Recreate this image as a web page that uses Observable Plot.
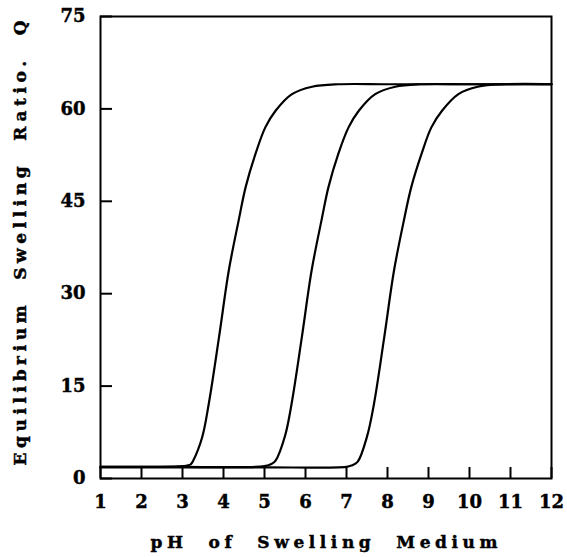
<!DOCTYPE html>
<html><head><meta charset="utf-8">
<script src="https://cdn.jsdelivr.net/npm/d3@7"></script>
<script src="https://cdn.jsdelivr.net/npm/@observablehq/plot@0.6"></script>
<style>
html,body{margin:0;padding:0;background:#fff;}
svg text{white-space:pre; stroke:#000; stroke-width:0.45px;}
</style></head><body><div id="chart"></div>
<script>
const xTicks = [1,2,3,4,5,6,7,8,9,10,11,12];
const yTicks = [0,15,30,45,60,75];
const xLabel = "pH  of  Swelling  Medium";
const yLabel = "Equilibrium  Swelling  Ratio.  Q";

const curve1pH = [1, 2, 3, 3.2, 3.26, 3.48, 3.64, 3.89, 4.13, 4.37, 4.54, 4.78, 5.02, 5.27, 5.67, 6.16, 6.8, 8, 10, 12];
const curve1Q  = [1.9, 1.9, 2.0, 2.3, 2.9, 6.7, 12.1, 22.9, 33.8, 41.9, 47.3, 52.7, 57.0, 59.7, 62.4, 63.6, 64.0, 64.0, 64.0, 64.0];
const curve2pH = [1, 3, 5, 5.18, 5.27, 5.5, 5.66, 5.91, 6.15, 6.39, 6.56, 6.8, 7.05, 7.3, 7.7, 8.19, 8.8, 10, 12];
const curve2Q  = [1.9, 1.9, 2.0, 2.4, 2.9, 6.9, 12.1, 22.9, 33.8, 41.9, 47.3, 52.7, 57.0, 59.7, 62.4, 63.6, 64.0, 64.0, 64.0];
const curve3pH = [1, 3, 5, 7, 7.12, 7.27, 7.5, 7.67, 7.92, 8.16, 8.4, 8.58, 8.83, 9.07, 9.33, 9.73, 10.2, 10.9, 12];
const curve3Q  = [1.8, 1.8, 1.8, 1.9, 2.1, 2.7, 6.8, 12.1, 22.9, 33.8, 41.9, 47.3, 52.7, 57.0, 59.7, 62.4, 63.6, 64.0, 64.0];

const rows = [];
[[curve1pH, curve1Q, "1"], [curve2pH, curve2Q, "2"], [curve3pH, curve3Q, "3"]].forEach(([xs, ys, s]) => {
  xs.forEach((x, i) => rows.push({pH: x, Q: ys[i], series: s}));
});

const chart = Plot.plot({
  width: 567, height: 557,
  marginLeft: 100, marginRight: 16, marginTop: 16, marginBottom: 79,
  x: {domain: [1, 12]},
  y: {domain: [0, 75]},
  style: {fontFamily: "DejaVu Serif", fontWeight: "bold", fontSize: "18px", color: "#000", background: "#fff"},
  marks: [
    Plot.frame({stroke: "#000", strokeWidth: 2}),
    Plot.axisX({ticks: xTicks, tickSize: -11, tickPadding: 28, strokeWidth: 2, label: null, tickFormat: d => String(d)}),
    Plot.axisY({ticks: yTicks, tickSize: -12, tickPadding: 27, strokeWidth: 2, label: null, tickFormat: d => String(d)}),
    Plot.line(rows, {x: "pH", y: "Q", z: "series", stroke: "#000", strokeWidth: 2.2, curve: "catmull-rom"}),
    Plot.text([xLabel], {text: d => d, frameAnchor: "bottom", textAnchor: "middle", dy: 69, dx: -2, fontSize: 17}),
    Plot.text([yLabel], {text: d => d, frameAnchor: "left", textAnchor: "middle", dx: -80, dy: -4.5, rotate: -90, fontSize: 17})
  ]
});
document.getElementById("chart").appendChild(chart);
d3.select(chart).selectAll("text").filter(function(){ return this.textContent === xLabel; })
  .attr("textLength", 347).attr("lengthAdjust", "spacing");
d3.select(chart).selectAll("text").filter(function(){ return this.textContent === yLabel; })
  .attr("textLength", 445).attr("lengthAdjust", "spacing");
</script></body></html>
